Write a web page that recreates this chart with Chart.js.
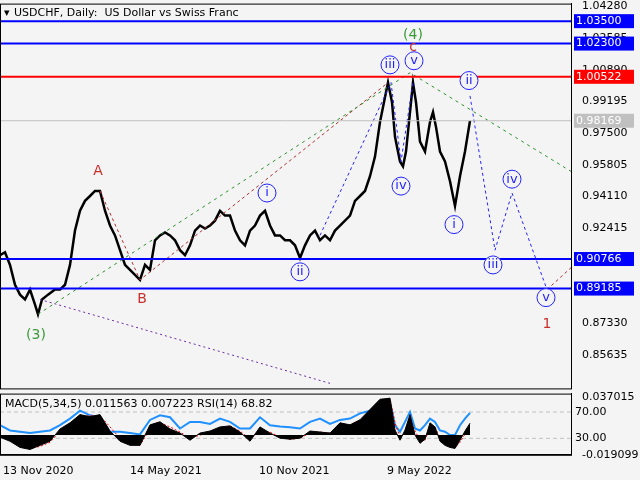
<!DOCTYPE html>
<html>
<head>
<meta charset="utf-8">
<script src="https://cdn.jsdelivr.net/npm/chart.js@4.4.0/dist/chart.umd.min.js"></script>
<style>
  body { margin: 0; background: #f4f4f4; }
  #wrap { position: relative; width: 640px; height: 480px; background: #f4f4f4; overflow: hidden; }
  #main { position: absolute; left: 0; top: -6px; }
  #ind { position: absolute; left: 0; top: 384px; }
</style>
</head>
<body>
<div id="wrap">
  <canvas id="main" width="640" height="404"></canvas>
  <canvas id="ind" width="640" height="96"></canvas>
</div>
<script>
// daily bar index (x) and close price
const priceX = [0,5,10,15,20,25,30,35,38,42,48,55,60,65,70,75,80,85,90,95,100,105,110,115,120,125,130,135,140,145,150,155,160,165,170,175,180,185,190,195,200,205,210,215,220,225,230,235,240,245,250,255,260,265,270,275,280,285,290,295,300,305,310,315,320,325,330,335,340,345,350,355,360,365,370,375,380,385,388,392,395,400,403,406,410,413,416,420,425,430,433,436,440,445,450,455,460,465,470];
const priceY = [0.9097,0.9113,0.9045,0.8939,0.8886,0.8860,0.8913,0.8833,0.8781,0.8860,0.8886,0.8913,0.8913,0.8939,0.9045,0.9229,0.9335,0.9388,0.9414,0.9441,0.9441,0.9335,0.9256,0.9203,0.9124,0.9045,0.9018,0.8992,0.8965,0.9045,0.9018,0.9177,0.9203,0.9219,0.9203,0.9177,0.9124,0.9097,0.9150,0.9229,0.9256,0.9240,0.9256,0.9282,0.9335,0.9309,0.9309,0.9229,0.9177,0.9150,0.9229,0.9256,0.9309,0.9335,0.9256,0.9203,0.9203,0.9177,0.9177,0.9150,0.9082,0.9150,0.9203,0.9229,0.9177,0.9203,0.9177,0.9229,0.9256,0.9282,0.9309,0.9388,0.9414,0.9441,0.9520,0.9625,0.9810,0.9942,1.0021,0.9916,0.9731,0.9599,0.9573,0.9652,0.9863,1.0021,0.9916,0.9705,0.9652,0.9810,0.9863,0.9784,0.9652,0.9599,0.9493,0.9361,0.9520,0.9652,0.9817];

const priceTicks = [1.04280,1.02585,1.00890,0.99195,0.97500,0.95805,0.94110,0.92415,0.90720,0.89025,0.87330,0.85635];
const blueLevels = [1.03500,1.02300,0.90766,0.89185];
const redLevel = 1.00522;
const lastPrice = 0.98169;

// wave paths
const greenWave = [[38,0.8781],[410,1.0074],[571,0.9546]];
const redWave = [[100,0.9441],[140,0.8965],[388,1.0021]];
const purpleWave = [[40,0.8860],[330,0.8411]];
const blueWave = [[320,0.9203],[391,1.0021],[401,0.9599],[413,1.0021]];
const blueProjection = [[470,0.9950],[495,0.9124],[512,0.9430],[547,0.8913]];
const redProjection = [[547,0.8913],[571,0.9030]];

// wave labels: text, x, price, colour, circled
const waveText = ['(4)','(3)','A','B','1','i','ii','iii','iv','v','i','ii','iii','iv','v','c'];
const waveX = [413,36,98,142,547,267,300,390,401,414,454,469,493,512,546,413];
const waveP = [1.0275,0.8670,0.9546,0.8860,0.8728,0.9430,0.9008,1.0116,0.9467,1.0138,0.9261,1.0032,0.9045,0.9504,0.8870,1.0212];
const waveColor = ['#3a9a3a','#3a9a3a','#c8302c','#c8302c','#c8302c','b','b','b','b','b','b','b','b','b','b','#c8302c'];

// indicator
const indX = [0,10,20,30,40,50,60,70,80,90,100,110,120,130,140,150,160,170,180,190,200,210,220,230,240,250,260,270,280,290,300,310,320,330,340,350,360,370,380,390,395,400,405,410,415,420,425,430,435,440,445,450,455,460,465,470];
const rsi = [50,42,40,38,40,42,50,60,72,65,62,40,40,38,36,58,65,62,45,55,55,52,60,55,45,45,62,50,48,47,45,55,60,52,58,60,68,72,80,85,50,40,55,70,45,42,50,60,55,42,40,35,35,50,60,68.8];
const macd = [-0.002,-0.006,-0.012,-0.014,-0.010,-0.006,0.006,0.012,0.020,0.018,0.020,0.004,-0.006,-0.010,-0.010,0.010,0.013,0.006,0.002,-0.005,0.002,0.004,0.008,0.009,0.003,-0.006,0.008,0.002,-0.003,-0.004,-0.003,0.004,0.003,0.002,0.012,0.010,0.015,0.025,0.035,0.036,0.005,-0.005,0.005,0.020,0.000,-0.008,-0.004,0.012,0.008,-0.006,-0.010,-0.012,-0.013,-0.005,0.004,0.0116];
const signal = [-0.001,-0.004,-0.010,-0.013,-0.011,-0.007,0.003,0.010,0.018,0.019,0.019,0.008,-0.003,-0.008,-0.010,0.006,0.012,0.008,0.003,-0.003,0.000,0.003,0.007,0.009,0.004,-0.004,0.005,0.003,-0.002,-0.004,-0.003,0.002,0.003,0.002,0.009,0.010,0.014,0.022,0.032,0.036,0.012,-0.002,0.002,0.016,0.004,-0.005,-0.005,0.008,0.008,-0.003,-0.008,-0.011,-0.012,-0.007,0.001,0.0072];
const dateLabels = ['13 Nov 2020','14 May 2021','10 Nov 2021','9 May 2022'];
const dateX = [3,130,259,387];

const X_MAX = 571;
const pts = a => a.map(p => ({x: p[0], y: p[1]}));

function pathSet(data, color, dash, width) {
  return { data: pts(data), borderColor: color, borderDash: dash, borderWidth: width || 1,
           pointRadius: 0, fill: false, tension: 0 };
}

const datasets = [];
blueLevels.forEach(v => datasets.push(pathSet([[0,v],[X_MAX,v]], '#0000ff', [], 2)));
datasets.push(pathSet([[0,redLevel],[X_MAX,redLevel]], '#ff0000', [], 2));
datasets.push(pathSet([[0,lastPrice],[X_MAX,lastPrice]], '#c0c0c0', [], 1));
datasets.push(pathSet(greenWave, '#2f8f2f', [3,4]));
datasets.push(pathSet(redWave, '#b03030', [3,3]));
datasets.push(pathSet(purpleWave, '#6a2ca0', [2,3]));
datasets.push(pathSet(blueWave, '#2222ff', [3,3]));
datasets.push(pathSet(blueProjection, '#2222ff', [3,3]));
datasets.push(pathSet(redProjection, '#b03030', [3,3]));
datasets.push({ data: priceX.map((x, i) => ({x, y: priceY[i]})), borderColor: '#000', borderWidth: 2.5,
                pointRadius: 0, fill: false, tension: 0 });

const tagPlugin = {
  id: 'tags',
  afterDraw(chart) {
    const ctx = chart.ctx, xs = chart.scales.x, ys = chart.scales.y, a = chart.chartArea;
    ctx.save();
    ctx.font = '11px "DejaVu Sans"';
    ctx.textBaseline = 'middle';
    const tag = (v, bg, fg) => {
      const y = ys.getPixelForValue(v);
      ctx.fillStyle = bg;
      ctx.fillRect(574, y - 7, 60, 14);
      ctx.fillStyle = fg;
      ctx.textAlign = 'left';
      ctx.fillText(v.toFixed(5), 576, y);
    };
    blueLevels.forEach(v => tag(v, '#0000ff', '#fff'));
    tag(redLevel, '#ff0000', '#fff');
    tag(lastPrice, '#c0c0c0', '#fff');

    ctx.textAlign = 'center';
    waveText.forEach((t, i) => {
      const x = xs.getPixelForValue(waveX[i]), y = ys.getPixelForValue(waveP[i]);
      if (waveColor[i] === 'b') {
        ctx.fillStyle = '#f4f4f4';
        ctx.strokeStyle = '#2222ff';
        ctx.lineWidth = 1;
        ctx.beginPath(); ctx.arc(x, y, 9, 0, Math.PI * 2); ctx.fill(); ctx.stroke();
        ctx.fillStyle = '#2222ff';
        ctx.font = '13px "DejaVu Sans"';
        ctx.fillText(t, x, y);
      } else {
        ctx.fillStyle = waveColor[i];
        ctx.font = '14px "DejaVu Sans"';
        ctx.fillText(t, x, y);
      }
    });

    ctx.font = '11px "DejaVu Sans"';
    ctx.textAlign = 'left';
    ctx.fillStyle = '#000';
    ctx.fillText('\u25BE', 4, a.top + 10);
    ctx.fillText('USDCHF, Daily:  US Dollar vs Swiss Franc', 14, a.top + 10);
    ctx.strokeStyle = '#000';
    ctx.strokeRect(0.5, a.top + 0.5, a.right, a.bottom - a.top);
    ctx.restore();
  }
};

new Chart(document.getElementById('main'), {
  type: 'line',
  data: { datasets },
  options: {
    responsive: false, animation: false,
    layout: { padding: 0 },
    plugins: { legend: { display: false }, tooltip: { enabled: false } },
    scales: {
      x: { type: 'linear', min: 0, max: X_MAX, display: false },
      y: {
        position: 'right', min: 0.8384, max: 1.0444,
        afterFit: s => { s.width = 69; },
        afterBuildTicks: s => { s.ticks = priceTicks.map(v => ({value: v})); },
        grid: { display: false, drawTicks: true },
        border: { color: '#000' },
        ticks: { color: '#000', font: { family: 'DejaVu Sans', size: 11 }, padding: 3,
                 callback: v => v.toFixed(5) }
      }
    }
  },
  plugins: [tagPlugin]
});

const indPlugin = {
  id: 'indtext',
  beforeDatasetsDraw(chart) {
    const ctx = chart.ctx, ys = chart.scales.rsi, a = chart.chartArea;
    ctx.save();
    ctx.strokeStyle = '#c0c0c0';
    ctx.setLineDash([4, 3]);
    [70, 30].forEach(v => {
      const y = ys.getPixelForValue(v);
      ctx.beginPath(); ctx.moveTo(a.left, y); ctx.lineTo(a.right, y); ctx.stroke();
    });
    ctx.restore();
  },
  afterDraw(chart) {
    const ctx = chart.ctx, a = chart.chartArea, ys = chart.scales.rsi;
    ctx.save();
    ctx.font = '11px "DejaVu Sans"';
    ctx.fillStyle = '#000';
    ctx.textBaseline = 'middle';
    ctx.fillText('MACD(5,34,5) 0.011563 0.007223 RSI(14) 68.82', 5, a.top + 11);
    [70, 30].forEach(v => ctx.fillText(v.toFixed(2), a.right + 4, ys.getPixelForValue(v)));
    ctx.strokeStyle = '#000';
    ctx.strokeRect(0.5, a.top + 0.5, a.right, a.bottom - a.top);
    ctx.restore();
  }
};

new Chart(document.getElementById('ind'), {
  type: 'line',
  data: {
    datasets: [
      { data: indX.map((x, i) => ({x, y: macd[i]})), yAxisID: 'macd', borderColor: '#000',
        backgroundColor: '#000', fill: 'origin', borderWidth: 1, pointRadius: 0, tension: 0 },
      { data: indX.map((x, i) => ({x, y: signal[i]})), yAxisID: 'macd', borderColor: '#ff0000',
        borderDash: [2, 2], borderWidth: 1, pointRadius: 0, fill: false, tension: 0 },
      { data: indX.map((x, i) => ({x, y: rsi[i]})), yAxisID: 'rsi', borderColor: '#1e90ff',
        borderWidth: 2, pointRadius: 0, fill: false, tension: 0 }
    ]
  },
  options: {
    responsive: false, animation: false,
    layout: { padding: { top: 2 } },
    plugins: { legend: { display: false }, tooltip: { enabled: false } },
    scales: {
      x: {
        type: 'linear', min: 0, max: X_MAX,
        afterBuildTicks: s => { s.ticks = dateX.map(v => ({value: v})); },
        grid: { display: false },
        border: { color: '#000' },
        ticks: { color: '#000', font: { family: 'DejaVu Sans', size: 11 }, maxRotation: 0,
                 align: 'start', padding: 2,
                 callback: (v) => dateLabels[dateX.indexOf(v)] }
      },
      macd: {
        position: 'right', min: -0.0192, max: 0.0405,
        afterFit: s => { s.width = 69; },
        afterBuildTicks: s => { s.ticks = [{value: 0.037015}, {value: -0.019099}]; },
        grid: { display: false }, border: { color: '#000' },
        ticks: { color: '#000', font: { family: 'DejaVu Sans', size: 11 }, padding: 3,
                 callback: v => v.toFixed(6) }
      },
      rsi: {
        position: 'right', min: 5, max: 98, display: false
      }
    }
  },
  plugins: [indPlugin]
});
</script>
</body>
</html>
